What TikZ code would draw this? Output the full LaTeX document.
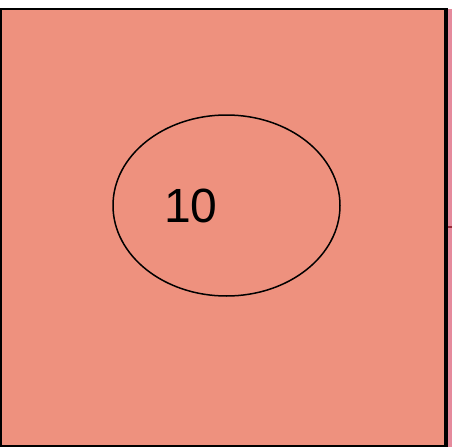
\documentclass[tikz,border=0pt]{standalone}
\usepackage{fontspec}
\setmainfont{Liberation Sans}
\usetikzlibrary{shapes.geometric}
\definecolor{SetSalmon}{HTML}{EE917E}
\definecolor{SetPink}{HTML}{E58A9C}
\definecolor{SetRed}{HTML}{9A2A3A}

\begin{document}
\begin{tikzpicture}[
  x=1pt, y=-1pt,
  setbox/.style={draw=black, line width=2pt, fill=SetSalmon, minimum width=444pt, minimum height=437pt, inner sep=0pt},
  setring/.style={draw=black, line width=1.5pt, ellipse, minimum width=227pt, minimum height=181pt, inner sep=0pt},
  count/.style={font=\fontsize{48}{50}\selectfont, text=black, inner sep=0pt}
]
  \useasboundingbox (0,0) rectangle (452,447);
  % edge of the next panel, cut off at the right
  \fill[SetPink] (447,9) rectangle (452,447);
  \draw[SetRed, line width=1.5pt] (447,227) -- (452,227);

  \node[setbox] (universe) at (223,227.5) {};
  \draw[line width=3pt] (universe.north east) -- (universe.south east);
  \node[setring] (set) at (226.5,205.5) {};
  \node[count] (value) at (191,206) {10};
\end{tikzpicture}
\end{document}
